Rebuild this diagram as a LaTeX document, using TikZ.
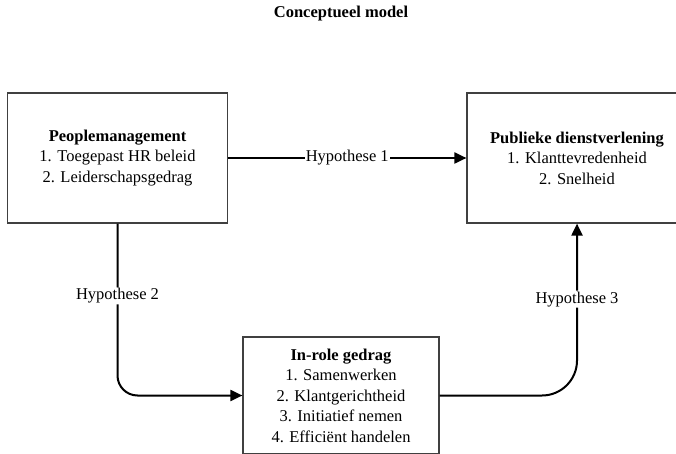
\documentclass[tikz,border=0pt]{standalone}
\usepackage{fontspec}
\setmainfont{Liberation Serif}[Ligatures=TeX]
\usepackage{tikz}
\usetikzlibrary{arrows.meta}
\tikzstyle{BoxModel}=[rectangle,draw=black!75,line width=1.2pt,minimum width=220pt,
minimum height=130pt,align=center,font=\rmfamily\fontsize{16.5}{20.5}\selectfont]
\tikzstyle{ArrowModel}=[-{Triangle[length=12pt,width=11pt]},line width=2pt,black]
\tikzstyle{LabelModel}=[fill=white,inner sep=1pt,font=\rmfamily\fontsize{16.5}{18}\selectfont]

\begin{document}
\begin{tikzpicture}[x=1pt,y=-1pt]
        \useasboundingbox(0,0)rectangle(676,454);
        \node[font=\rmfamily\bfseries\fontsize{16.5}{18}\selectfont](title)at(341,14){Conceptueel model};
        \node[BoxModel](pm)at(117.5,158){\textbf{Peoplemanagement}\\1. Toegepast HR beleid\\2. Leiderschapsgedrag};
        \node[BoxModel](pd)at(577,158){\textbf{Publieke dienstverlening}\\1. Klanttevredenheid\\2. Snelheid};
        \node[BoxModel,minimum width=196pt,minimum height=117pt](ir)at(341,395.5){\textbf{In-role gedrag}\\1. Samenwerken\\2. Klantgerichtheid\\3. Initiatief nemen\\4. Efficiënt handelen};
        \draw[ArrowModel](pm)--node[LabelModel]{Hypothese 1}(pd);
        \draw[ArrowModel,rounded corners=20pt](pm.south)|-node[LabelModel,pos=.21]{Hypothese 2}(ir.west);
        \draw[ArrowModel,rounded corners=35pt](ir.east)-|node[LabelModel,pos=.78]{Hypothese 3}(pd.south);
    \end{tikzpicture}
\end{document}
